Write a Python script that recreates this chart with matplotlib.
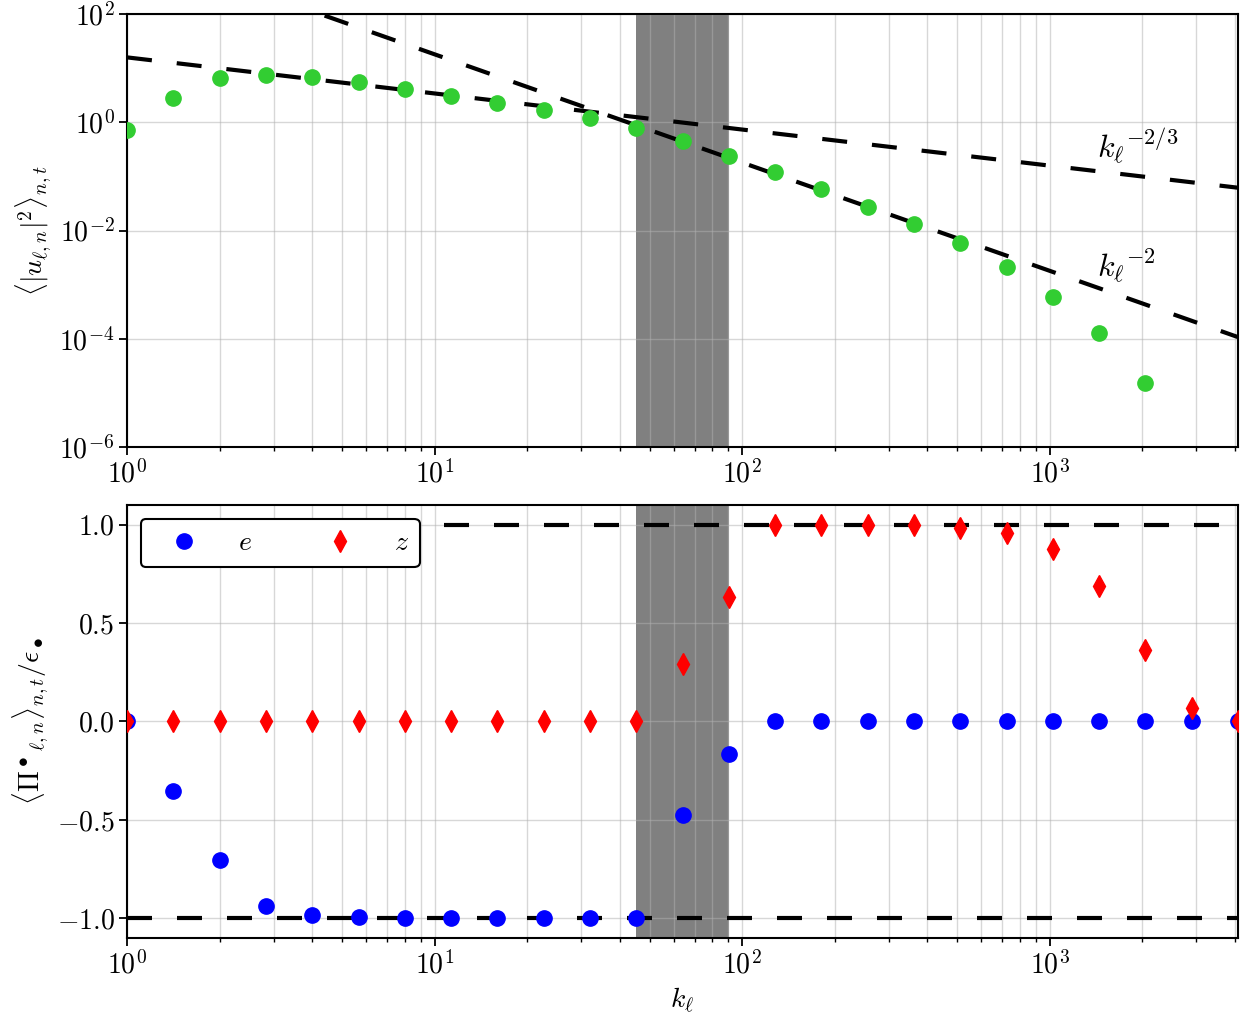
import numpy as np
import matplotlib
matplotlib.use("Agg")
import matplotlib.pyplot as plt

# shell wavenumbers k_l
k = [1, 1.414, 2, 2.828, 4, 5.657, 8, 11.31, 16, 22.63, 32, 45.25, 64, 90.51,
     128, 181.0, 256, 362.0, 512, 724.1, 1024, 1448, 2048, 2896, 4096]

# top panel: energy spectrum <|u|^2>
energy = [0.71, 2.8, 6.5, 7.6, 6.8, 5.5, 4.1, 3.0, 2.25, 1.67, 1.19, 0.77,
          0.45, 0.235, 0.12, 0.058, 0.027, 0.013, 0.0058, 0.0021, 5.8e-4,
          1.3e-4, 1.5e-5]

# bottom panel: normalised fluxes
flux_e = [0.0, -0.355, -0.705, -0.935, -0.985, -0.995, -1.0, -1.0, -1.0, -1.0,
          -1.0, -1.0, -0.475, -0.163, 0, 0, 0, 0, 0, 0, 0, 0, 0, 0, 0]
flux_z = [0, 0, 0, 0, 0, 0, 0, 0, 0, 0, 0, 0, 0.29, 0.63, 1.0, 1.0, 1.0, 1.0,
          0.985, 0.96, 0.875, 0.69, 0.365, 0.07, 0.0]

# reference slopes
ref_k = [1, 4096]
c_23 = 15.8
c_2 = 1.8e3
forcing = (45.25, 90.51)

plt.rcParams["font.family"] = "serif"
plt.rcParams["font.serif"] = ["cmr10"]
plt.rcParams["mathtext.fontset"] = "cm"
plt.rcParams["axes.formatter.use_mathtext"] = True
plt.rcParams["font.size"] = 20
plt.rcParams["axes.linewidth"] = 1.5
plt.rcParams["xtick.major.width"] = 1.3
plt.rcParams["ytick.major.width"] = 1.3
plt.rcParams["xtick.major.size"] = 5.5
plt.rcParams["ytick.major.size"] = 5.5
plt.rcParams["xtick.minor.size"] = 3
plt.rcParams["xtick.minor.width"] = 1.0

fig = plt.figure(figsize=(12.48, 10.22), dpi=100)
ax1 = fig.add_axes([0.1018, 0.5626, 0.8902, 0.4237])
ax2 = fig.add_axes([0.1018, 0.0822, 0.8902, 0.4237])

# --- top ---
ax1.axvspan(*forcing, color="grey", lw=0)
ax1.plot(k[:len(energy)], energy, "o", color="limegreen", ms=11, zorder=3)
ax1.plot(ref_k, [c_23 * x ** (-2 / 3) for x in ref_k], color="k", lw=3,
         dashes=(6, 6), zorder=2.5)
ax1.plot(ref_k, [c_2 * x ** (-2.0) for x in ref_k], color="k", lw=3,
         dashes=(6, 6), zorder=2.5)
ax1.text(1420, 0.36, r"${k_\ell}^{-2/3}$", ha="left", va="center", fontsize=23)
ax1.text(1420, 2.2e-3, r"${k_\ell}^{-2}$", ha="left", va="center", fontsize=23)
ax1.set_xscale("log")
ax1.set_yscale("log")
ax1.set_xlim(1, 4096)
ax1.set_ylim(1e-6, 1e2)
ax1.set_yticks([1e-6, 1e-4, 1e-2, 1e0, 1e2])
ax1.yaxis.set_minor_locator(matplotlib.ticker.NullLocator())
ax1.grid(True, which="both", axis="x", alpha=0.5, lw=1.0)
ax1.grid(True, which="major", axis="y", alpha=0.5, lw=1.0)
ax1.set_ylabel(r"$\langle |u_{\ell,n}|^2 \rangle_{n,t}$")

# --- bottom ---
ax2.axvspan(*forcing, color="grey", lw=0)
ax2.axhline(-1, color="k", lw=3, dashes=(6, 6), zorder=2.5)
ax2.axhline(1, xmin=0.285, color="k", lw=3, dashes=(6, 6), zorder=2.5)
ax2.plot(k, flux_e, "o", color="blue", ms=11, label=r"$e$", zorder=3)
ax2.plot(k, flux_z, "d", color="red", ms=11, label=r"$z$", zorder=3)
ax2.set_xscale("log")
ax2.set_xlim(1, 4096)
ax2.set_ylim(-1.1, 1.1)
ax2.set_yticks([-1.0, -0.5, 0.0, 0.5, 1.0])
ax2.grid(True, which="both", axis="x", alpha=0.5, lw=1.0)
ax2.grid(True, which="major", axis="y", alpha=0.5, lw=1.0)
ax2.set_xlabel(r"$k_\ell$")
ax2.set_ylabel(r"$\langle {\Pi^\bullet}_{\ell,n} \rangle_{n,t} / \epsilon_\bullet$")
leg = ax2.legend(loc="upper left", ncol=2, framealpha=1, edgecolor="k",
                 handlelength=2.3)
leg.get_frame().set_linewidth(1.5)

fig.savefig("out.png", dpi=100)
